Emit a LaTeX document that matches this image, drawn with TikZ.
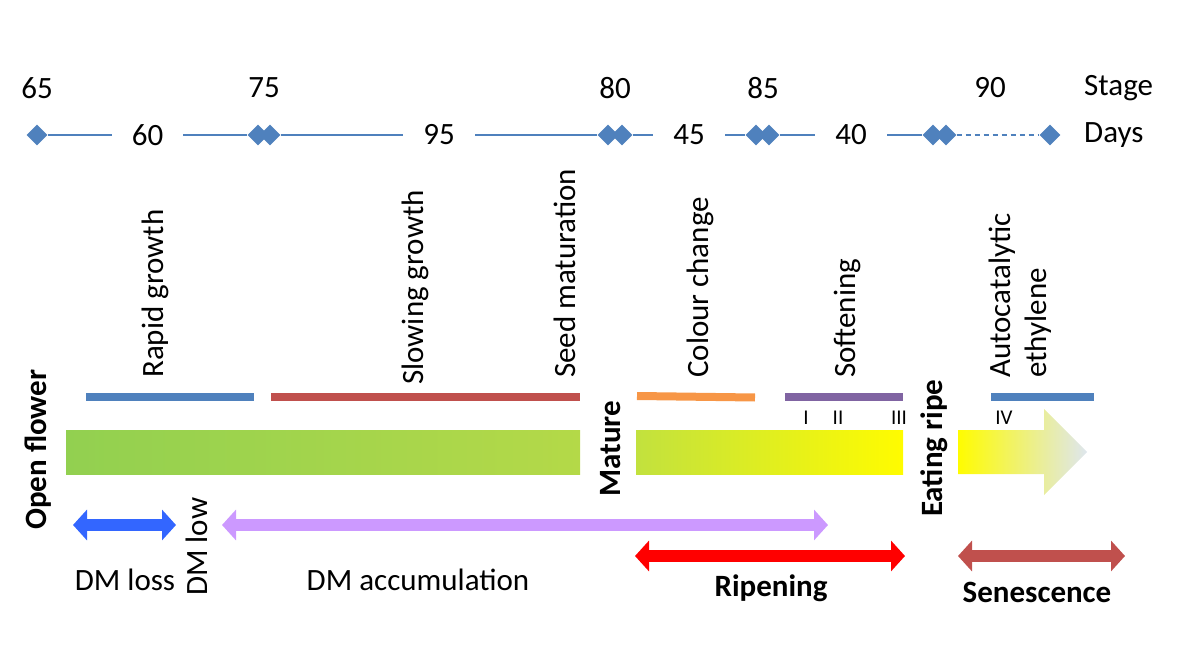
\documentclass[tikz,border=0pt]{standalone}
\usepackage{fontspec}
\setmainfont{Carlito}
\usetikzlibrary{arrows.meta,shapes.geometric}
\newcommand{\lblfont}{\fontsize{31}{36}\selectfont}
\newcommand{\romanfont}{\fontsize{21}{24}\selectfont}
\begin{document}
\begin{tikzpicture}[x=1pt, y=-1pt, every node/.style={font=\lblfont},
  daymark/.style={diamond, fill=daycolor, inner sep=0, minimum width=21pt, minimum height=21pt},
  dayline/.style={daycolor, line width=2pt},
  daylab/.style={fill=white, text=black, inner xsep=20pt, inner ysep=2pt},
  phasebar/.style={line width=8pt},
  vlab/.style={rotate=90, anchor=west, inner sep=0},
  span/.style={line width=12pt, >={Triangle[width=30pt,length=14pt]}, <->}]
\definecolor{daycolor}{RGB}{79,129,189}
\definecolor{slowcolor}{RGB}{192,80,77}
\definecolor{colourcolor}{RGB}{247,150,70}
\definecolor{softcolor}{RGB}{128,100,162}
\definecolor{greenbar}{RGB}{146,208,80}
\definecolor{greenend}{RGB}{180,217,72}
\definecolor{maturecolor}{RGB}{194,225,62}
\definecolor{ripecolor}{RGB}{255,252,0}
\definecolor{fadecolor}{RGB}{222,230,238}
\definecolor{losscolor}{RGB}{51,102,255}
\definecolor{accucolor}{RGB}{204,153,255}
\definecolor{senescolor}{RGB}{192,80,77}
\useasboundingbox (0,0) rectangle (1200,671);
% Stage numbers
\foreach \x/\lab in {37/65, 264/75, 615/80, 763/85, 990/90} {
  \node (s\lab) at (\x,88) {\lab};
}
\node[anchor=west, inner sep=0] (stage) at (1084,88) {Stage};
% Days line with diamonds
\foreach \x/\name in {37/d65, 258/d75a, 270/d75b, 608/d80a, 622/d80b,
  756/d85a, 769/d85b, 933/d90a, 946/d90b, 1050/dend} {
  \node[daymark] (\name) at (\x,135) {};
}
\draw[dayline] (d65) -- node[daylab] (n60) {60} (d75a);
\draw[dayline] (d75b) -- node[daylab] (n95) {95} (d80a);
\draw[dayline] (d80b) -- node[daylab] (n45) {45} (d85a);
\draw[dayline] (d85b) -- node[daylab] (n40) {40} (d90a);
\draw[dayline, dash pattern=on 5pt off 4pt] (d90b) -- (dend);
\node[anchor=west, inner sep=0] (days) at (1084,135) {Days};
% Process labels
\node[vlab] (rapid) at (155,378) {Rapid growth};
\node[vlab] (slowing) at (415,385) {Slowing growth};
\node[vlab] (seed) at (565,378) {Seed maturation};
\node[vlab] (colour) at (700,378) {Colour change};
\node[vlab] (soft) at (847,378) {Softening};
\node[vlab, align=left] (ethylene) at (1020,378) {Autocatalytic\\ethylene};
% Phase bars
\draw[phasebar, daycolor] (86,397) -- (254,397);
\draw[phasebar, slowcolor] (271,397) -- (580,397);
\draw[phasebar, colourcolor] (637,396) -- (755,397.5);
\draw[phasebar, softcolor] (785,397) -- (903,397);
\draw[phasebar, daycolor] (991,397) -- (1094,397);
% Softening grades
\node[font=\romanfont, inner sep=0] (g1) at (806,418) {I};
\node[font=\romanfont, inner sep=0] (g2) at (838,418) {II};
\node[font=\romanfont, inner sep=0] (g3) at (899,418) {III};
\node[font=\romanfont, inner sep=0] (g4) at (1004,418) {IV};
% Development bars
\shade[left color=greenbar, middle color=greenbar, right color=greenend]
  (66,430) rectangle (580,474);
\shade[left color=maturecolor, right color=ripecolor] (636,430) rectangle (903,474);
\shade[left color=ripecolor, middle color=ripecolor, right color=fadecolor]
  (958,430) -- (1044,430) -- (1044,409) -- (1087,452) -- (1044,495)
  -- (1044,474) -- (958,474) -- cycle;
% Milestones
\node[vlab, font=\lblfont\bfseries] (open) at (38,530) {Open flower};
\node[vlab, font=\lblfont\bfseries] (mature) at (611,497) {Mature};
\node[vlab, font=\lblfont\bfseries] (eating) at (934,517) {Eating ripe};
\node[vlab] (dmlow) at (197,596) {DM low};
% Dry matter and ripening spans
\coordinate (lossL) at (73,525);
\coordinate (lossR) at (176,525);
\coordinate (accuL) at (222,525);
\coordinate (accuR) at (828,525);
\coordinate (ripeL) at (635,556);
\coordinate (ripeR) at (905,556);
\coordinate (senL) at (958,556);
\coordinate (senR) at (1125,556);
\draw[span, losscolor] (lossL) -- (lossR);
\draw[span, accucolor] (accuL) -- (accuR);
\draw[span, red] (ripeL) -- (ripeR);
\draw[span, senescolor] (senL) -- (senR);
\node (loss) at (125,580) {DM loss};
\node (accu) at (418,580) {DM accumulation};
\node[font=\lblfont\bfseries] (ripening) at (771,588) {Ripening};
\node[font=\lblfont\bfseries] (senescence) at (1037,592) {Senescence};
\end{tikzpicture}
\end{document}
